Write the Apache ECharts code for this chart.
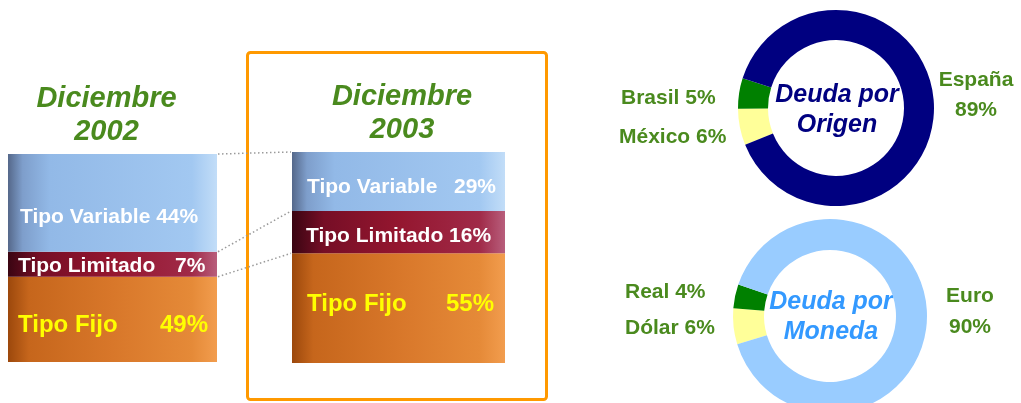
<!DOCTYPE html>
<html>
<head>
<meta charset="utf-8">
<script src="https://cdn.jsdelivr.net/npm/echarts@6/dist/echarts.min.js"></script>
<style>
  html, body { margin: 0; padding: 0; background: #fff; }
  #chart { width: 1021px; height: 403px; }
</style>
</head>
<body>
<div id="chart"></div>
<script>
// Debt structure by rate type, origin and currency
const years = ['Diciembre\n2002', 'Diciembre\n2003'];
const typeNames = ['Tipo Variable', 'Tipo Limitado', 'Tipo Fijo'];
const pct2002 = [44, 7, 49];
const pct2003 = [29, 16, 55];
// the slide does not draw the segments to scale, these are the shares as drawn
const drawn2002 = [47, 12, 41];
const drawn2003 = [28, 20, 52];

const origenNames = ['México', 'Brasil', 'España'];
const origenValues = [6, 5, 89];
const monedaNames = ['Dólar', 'Real', 'Euro'];
const monedaValues = [6, 4, 90];

const FONT = 'Arial, "Liberation Sans", sans-serif';
const GREEN_TEXT = '#4a8a1e';

const typeGradients = [
    // Variable
    [[0, '#55688a'], [0.07, '#7e9ecb'], [0.2, '#92b9e7'], [0.88, '#a2c8f1'], [1, '#c2ddf8']],
    // Limitado
    [[0, '#3a0512'], [0.15, '#760e26'], [0.5, '#94162f'], [0.88, '#a02a48'], [1, '#b85e7c']],
    // Fijo
    [[0, '#9c480c'], [0.1, '#c6661c'], [0.5, '#d8772a'], [0.88, '#e58a38'], [1, '#f29d4e']],
];

// label look per bar / segment (order: variable, limitado, fijo)
const labelStyles = [
    [
        {dist: 12, dy: 14, size: 21, color: '#fff', nameWidth: null},
        {dist: 10, dy: 2, size: 21, color: '#fff', nameWidth: 157},
        {dist: 10, dy: 6, size: 24, color: '#ffff00', nameWidth: 142},
    ],
    [
        {dist: 15, dy: 6, size: 21, color: '#fff', nameWidth: 147},
        {dist: 14, dy: 4, size: 21, color: '#fff', nameWidth: null},
        {dist: 15, dy: -4, size: 24, color: '#ffff00', nameWidth: 139},
    ],
];

const grids = [
    {left: 8, top: 154, width: 209, height: 208},
    {left: 292, top: 152, width: 213, height: 211},
];

function makeBarSeries() {
    const series = [];
    const pcts = [pct2002, pct2003];
    const drawn = [drawn2002, drawn2003];
    for (let g = 0; g < 2; g++) {
        // stack from the bottom: fijo, limitado, variable
        for (let i = typeNames.length - 1; i >= 0; i--) {
            const ls = labelStyles[g][i];
            const textBase = {
                fontFamily: FONT,
                fontWeight: 'bold',
                fontSize: ls.size,
                color: ls.color,
            };
            series.push({
                type: 'bar',
                name: typeNames[i],
                xAxisIndex: g,
                yAxisIndex: g,
                stack: 'g' + g,
                barWidth: '100%',
                silent: true,
                data: [drawn[g][i]],
                itemStyle: {
                    color: new echarts.graphic.LinearGradient(0, 0, 1, 0,
                        typeGradients[i].map(s => ({offset: s[0], color: s[1]}))),
                },
                label: {
                    show: true,
                    position: 'insideLeft',
                    distance: ls.dist,
                    offset: [0, ls.dy],
                    formatter: '{n|' + typeNames[i] + (ls.nameWidth ? '' : ' ') + '}{p|' + pcts[g][i] + '%}',
                    rich: {
                        n: Object.assign({width: ls.nameWidth || undefined}, textBase),
                        p: textBase,
                    },
                },
            });
        }
    }
    return series;
}

function pieSeries(names, values, colors, center, radius, startAngle) {
    return {
        type: 'pie',
        center: center,
        radius: radius,
        startAngle: startAngle,
        clockwise: true,
        silent: true,
        label: {show: false},
        labelLine: {show: false},
        itemStyle: {borderWidth: 0},
        data: names.map((n, i) => ({name: n, value: values[i], itemStyle: {color: colors[i]}})),
    };
}

function textEl(text, x, y, size, color, align, lineHeight, italic) {
    return {
        type: 'text',
        x: x,
        y: y,
        silent: true,
        style: {
            text: text,
            fontFamily: FONT,
            fontWeight: 'bold',
            fontStyle: italic ? 'italic' : 'normal',
            fontSize: size,
            fill: color,
            align: align,
            verticalAlign: 'middle',
            lineHeight: lineHeight,
        },
    };
}

const chart = echarts.init(document.getElementById('chart'));

const option = {
    animation: false,
    backgroundColor: '#fff',
    grid: grids,
    xAxis: [0, 1].map(g => ({
        type: 'category',
        gridIndex: g,
        position: 'top',
        data: [years[g]],
        axisLine: {show: false},
        axisTick: {show: false},
        axisLabel: {
            margin: 6,
            fontFamily: FONT,
            fontWeight: 'bold',
            fontStyle: 'italic',
            fontSize: 29,
            lineHeight: 33,
            color: GREEN_TEXT,
            padding: g === 0 ? [0, 12, 0, 0] : [0, 0, 0, 7],
        },
    })),
    yAxis: [0, 1].map(g => ({
        type: 'value',
        gridIndex: g,
        min: 0,
        max: 100,
        show: false,
    })),
    series: makeBarSeries().concat([
        pieSeries(origenNames, origenValues, ['#ffff99', '#008000', '#000080'], [836, 108], [68, 98], 202),
        pieSeries(monedaNames, monedaValues, ['#ffff99', '#008000', '#99ccff'], [830, 316], [66, 97], 197),
    ]),
};

chart.setOption(option);

// dotted connectors between the two stacks, from the laid out bars
function barRect(seriesIndex) {
    const l = chart.getModel().getSeriesByIndex(seriesIndex).getData().getItemLayout(0);
    return {left: l.x, right: l.x + l.width, top: Math.min(l.y, l.y + l.height)};
}
const connectors = [];
// series order per grid: fijo, limitado, variable
[2, 1, 0].forEach(k => {
    const a = barRect(k);
    const b = barRect(3 + k);
    connectors.push({
        type: 'line',
        silent: true,
        shape: {x1: a.right + 1, y1: a.top, x2: b.left - 1, y2: b.top},
        style: {stroke: '#9a9a9a', lineWidth: 1.5, lineDash: [1.5, 2.5]},
        z: 1,
    });
});

const graphics = connectors.concat([
    {
        type: 'rect',
        silent: true,
        shape: {x: 247.5, y: 52.5, width: 299, height: 347, r: 3},
        style: {fill: 'none', stroke: '#ff9900', lineWidth: 3},
    },
    textEl('Deuda por\nOrigen', 837, 110, 25, '#000080', 'center', 30, true),
    textEl('Deuda por\nMoneda', 831, 317, 25, '#3399ff', 'center', 30, true),
    textEl(origenNames[1] + ' ' + origenValues[1] + '%', 621, 98, 21, GREEN_TEXT, 'left', 24),
    textEl(origenNames[0] + ' ' + origenValues[0] + '%', 619, 137, 21, GREEN_TEXT, 'left', 24),
    textEl(origenNames[2] + '\n' + origenValues[2] + '%', 976, 95, 21, GREEN_TEXT, 'center', 30),
    textEl(monedaNames[1] + ' ' + monedaValues[1] + '%', 625, 292, 21, GREEN_TEXT, 'left', 24),
    textEl(monedaNames[0] + ' ' + monedaValues[0] + '%', 625, 328, 21, GREEN_TEXT, 'left', 24),
    textEl(monedaNames[2] + '\n' + monedaValues[2] + '%', 970, 312, 21, GREEN_TEXT, 'center', 31),
]);

chart.setOption({graphic: graphics});

window.addEventListener('resize', () => chart.resize());
</script>
</body>
</html>
